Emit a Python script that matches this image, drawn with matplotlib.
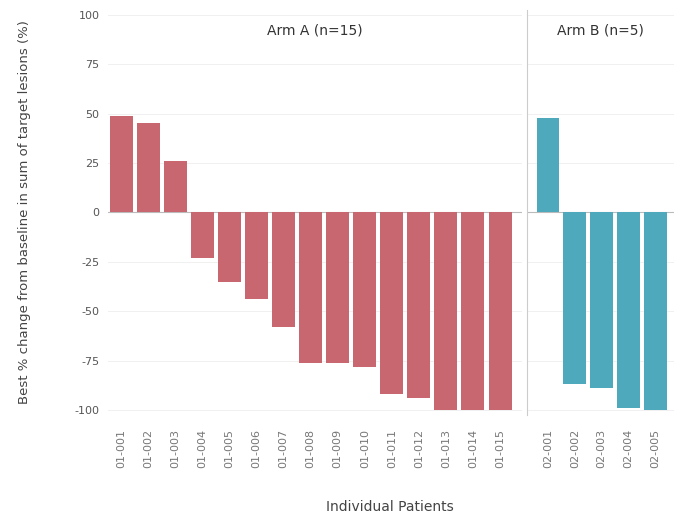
import numpy as np
import matplotlib
matplotlib.use("Agg")
import matplotlib.pyplot as plt

# best % change from baseline, one bar per patient, sorted high to low
arm_a_ids = ["01-001", "01-002", "01-003", "01-004", "01-005", "01-006", "01-007", "01-008",
             "01-009", "01-010", "01-011", "01-012", "01-013", "01-014", "01-015"]
arm_a_change = [49, 45, 26, -23, -35, -44, -58, -76, -76, -78, -92, -94, -100, -100, -100]

arm_b_ids = ["02-001", "02-002", "02-003", "02-004", "02-005"]
arm_b_change = [48, -87, -89, -99, -100]

arm_a_title = "Arm A (n=15)"
arm_b_title = "Arm B (n=5)"
y_ticks = [-100, -75, -50, -25, 0, 25, 50, 75, 100]

red = "#c8676f"
teal = "#4fa9bd"
text_gray = "#555555"

fig = plt.figure(figsize=(6.74, 5.2), dpi=100)
axA = fig.add_axes([0.160, 0.202, 0.614, 0.779])
axB = fig.add_axes([0.782, 0.202, 0.218, 0.779], sharey=axA)


def waterfall(axe, ids, values, color, title):
  x = np.arange(len(ids))
  axe.bar(x, values, width=0.85, color=color, edgecolor="none", zorder=2)
  axe.axhline(0, color="#bbbbbb", lw=0.8, zorder=1)
  for t in y_ticks:
    if t != 0:
      axe.axhline(t, color="#f0f0f0", lw=0.7, zorder=0)
  axe.set_xticks(x)
  axe.set_xticklabels(ids, rotation=90, fontsize=8, color="#777777")
  axe.tick_params(axis="x", length=0, pad=10)
  axe.set_title(title, fontsize=10, color="#333333", pad=-18, y=1.0)
  for s in ["top", "right", "bottom", "left"]:
    axe.spines[s].set_visible(False)


waterfall(axA, arm_a_ids, arm_a_change, red, arm_a_title)
waterfall(axB, arm_b_ids, arm_b_change, teal, arm_b_title)

axA.set_xlim(-0.5, 14.8)
axB.set_xlim(-0.78, 4.7)
axA.set_ylim(-102.5, 102.5)
axA.set_yticks(y_ticks)
axA.set_yticklabels([str(t) for t in y_ticks], fontsize=8, color=text_gray)
axA.tick_params(axis="y", length=0, pad=6)
axB.tick_params(axis="y", length=0, labelleft=False)

# light divider between the two arms
axB.spines["left"].set_visible(True)
axB.spines["left"].set_color("#cccccc")
axB.spines["left"].set_linewidth(0.8)

axA.set_ylabel("Best % change from baseline in sum of target lesions (%)",
               fontsize=9.5, color="#444444", labelpad=31)
fig.text(0.579, 0.012, "Individual Patients", ha="center", va="bottom",
         fontsize=10, color="#444444")

fig.savefig("out.png", dpi=100)
